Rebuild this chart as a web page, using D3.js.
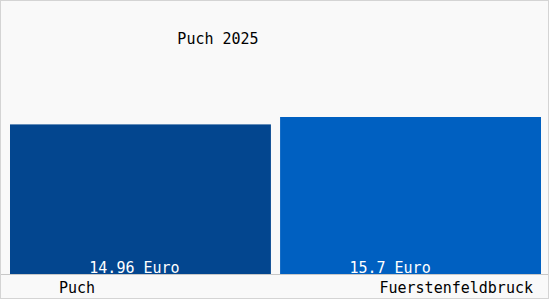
<!DOCTYPE html>
<html><head><meta charset="utf-8">
<script src="https://cdn.jsdelivr.net/npm/d3@7"></script>
<style>body{margin:0;background:#fff}svg{display:block}</style>
</head><body>
<script>
const title = "Puch 2025";
const categories = ["Puch", "Fuerstenfeldbruck"];
const values = [14.96, 15.7];
const valueLabels = ["14.96 Euro", "15.7 Euro"];
const colors = ["#03468f", "#0060c1"];

const W = 550, H = 300;
const svg = d3.select("body").append("svg").attr("width", W).attr("height", H);
svg.append("rect").attr("x", 0.5).attr("y", 0.5).attr("width", W - 2).attr("height", H - 2)
  .attr("fill", "#f9f9f9").attr("stroke", "#d4d4d4");

const x = d3.scaleBand().domain(categories).range([10, 541]).paddingInner(0.034).paddingOuter(0);
const y = d3.scaleLinear().domain([0, 20]).range([274, 74]);

const font = "'DejaVu Sans Mono', monospace";

svg.append("text").attr("x", 218).attr("y", 43.5).attr("text-anchor", "middle")
  .attr("font-family", font).attr("font-size", 15).attr("fill", "#000").text(title);

svg.selectAll("rect.bar").data(values).join("rect").attr("class", "bar")
  .attr("x", (d, i) => x(categories[i]))
  .attr("width", x.bandwidth())
  .attr("y", d => y(d))
  .attr("height", d => y(0) - y(d))
  .attr("fill", (d, i) => colors[i]);

svg.append("line").attr("x1", 1).attr("x2", W - 2).attr("y1", y(0) + 0.5).attr("y2", y(0) + 0.5)
  .attr("stroke", "#c8c8c8");

const labelDx = [-6, -20.5];
svg.selectAll("text.val").data(valueLabels).join("text").attr("class", "val")
  .attr("x", (d, i) => x(categories[i]) + x.bandwidth() / 2 + labelDx[i])
  .attr("y", 272.5).attr("text-anchor", "middle")
  .attr("font-family", font).attr("font-size", 15).attr("fill", "#fff").text(d => d);

svg.selectAll("text.cat").data(categories).join("text").attr("class", "cat")
  .attr("x", (d, i) => i === 0 ? x(d) + 67 : x(d) + x.bandwidth() - 8)
  .attr("y", 292.5)
  .attr("text-anchor", (d, i) => i === 0 ? "middle" : "end")
  .attr("font-family", font).attr("font-size", 15).attr("fill", "#000").text(d => d);
</script>
</body></html>
